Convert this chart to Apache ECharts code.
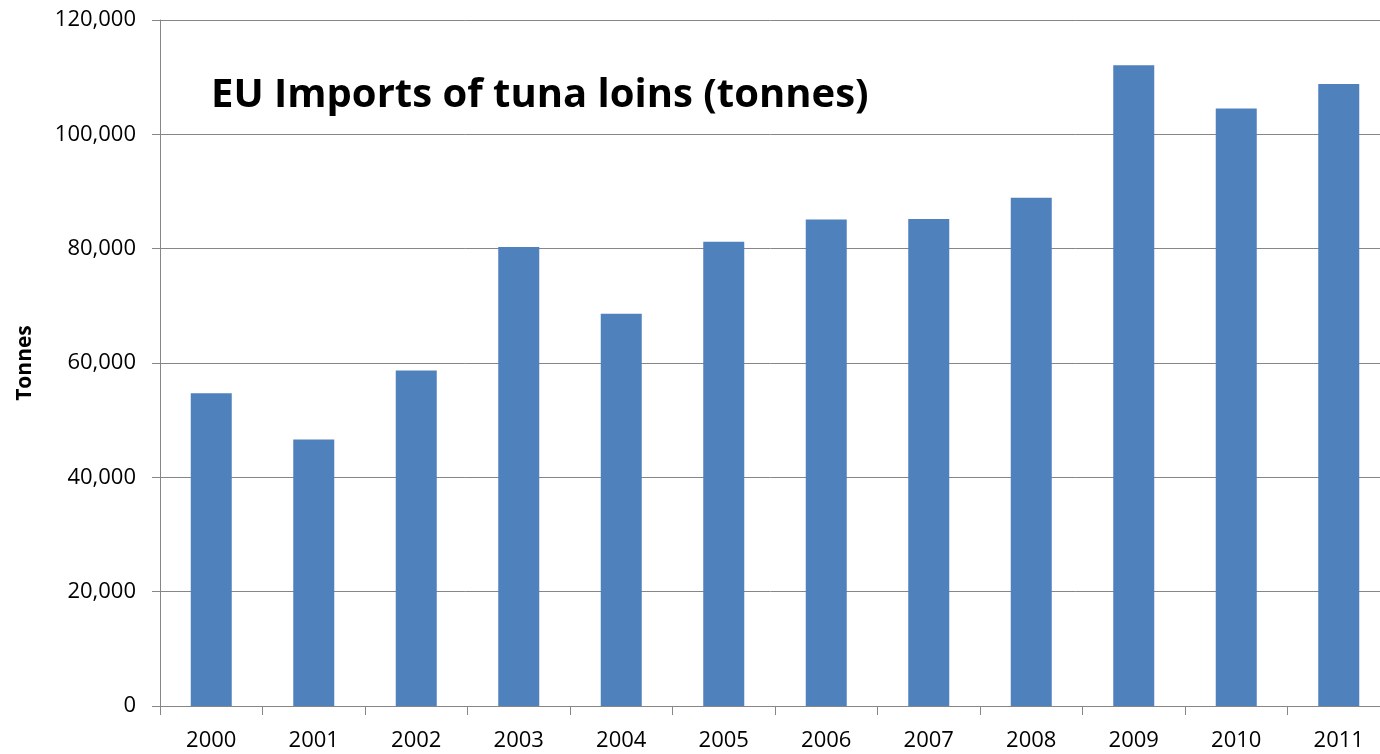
<!DOCTYPE html>
<html>
<head>
<meta charset="utf-8">
<script src="https://cdn.jsdelivr.net/npm/echarts@6/dist/echarts.min.js"></script>
<style>
  html, body { margin: 0; padding: 0; background: #ffffff; }
  #chart { width: 1380px; height: 754px; }
</style>
</head>
<body>
<div id="chart"></div>
<script>
// EU imports of tuna loins, tonnes per year
const years = ['2000', '2001', '2002', '2003', '2004', '2005', '2006', '2007', '2008', '2009', '2010', '2011'];
const tonnes = [54700, 46600, 58700, 80300, 68600, 81200, 85100, 85200, 88900, 112100, 104500, 108800];
const titleText = 'EU Imports of tuna loins (tonnes)';
const yAxisName = 'Tonnes';

const FONT = '"Open Sans", "Liberation Sans", sans-serif';
const chart = echarts.init(document.getElementById('chart'), null, { renderer: 'canvas' });

chart.setOption({
  animation: false,
  backgroundColor: '#ffffff',
  title: {
    text: titleText,
    left: 206,
    top: 71,
    textStyle: { fontFamily: FONT, fontSize: 40, fontWeight: 'bold', color: '#000000' }
  },
  // plot area runs slightly past the right edge of the canvas
  grid: { left: 160, top: 20, right: -10, bottom: 48, containLabel: false, outerBoundsMode: 'none' },
  xAxis: {
    type: 'category',
    data: years,
    boundaryGap: true,
    axisLine: { lineStyle: { color: '#868686', width: 1 } },
    axisTick: { show: true, length: 9, lineStyle: { color: '#868686' } },
    axisLabel: { fontFamily: FONT, fontSize: 22, color: '#000000', margin: 24 }
  },
  yAxis: {
    type: 'value',
    min: 0,
    max: 120000,
    interval: 20000,
    name: yAxisName,
    nameLocation: 'middle',
    nameGap: 124,
    nameRotate: 90,
    nameTextStyle: { fontFamily: FONT, fontSize: 21, fontWeight: 'bold', color: '#000000' },
    axisLine: { show: true, lineStyle: { color: '#868686', width: 1 } },
    axisTick: { show: true, length: 8, lineStyle: { color: '#868686' } },
    axisLabel: {
      fontFamily: FONT, fontSize: 22, color: '#000000', margin: 24,
      formatter: v => v.toLocaleString('en-US')
    },
    splitLine: { show: true, lineStyle: { color: '#868686', width: 1 } }
  },
  series: [{
    type: 'bar',
    data: tonnes,
    barWidth: 41,
    itemStyle: { color: '#4F81BD' }
  }]
});
</script>
</body>
</html>
